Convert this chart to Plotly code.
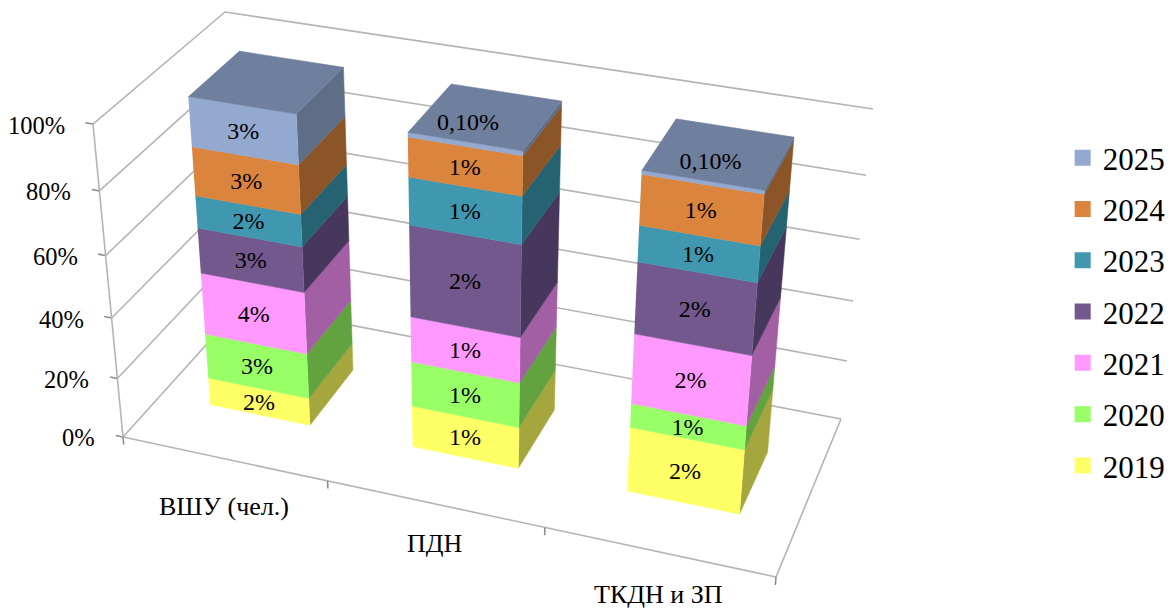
import numpy as np
import plotly.graph_objects as go

categories = ["ВШУ (чел.)", "ПДН", "ТКДН и ЗП"]
years = ["2019", "2020", "2021", "2022", "2023", "2024", "2025"]
v2019 = [1.83, 0.98, 1.92]
v2020 = [2.97, 1.05, 0.70]
v2021 = [4.00, 1.04, 2.00]
v2022 = [2.88, 2.05, 1.99]
v2023 = [2.01, 1.03, 0.98]
v2024 = [3.00, 0.84, 1.34]
v2025 = [3.00, 0.10, 0.10]
series = [v2019, v2020, v2021, v2022, v2023, v2024, v2025]
front_colors = ["#FFFF66", "#99FF66", "#FF99FF", "#72588C", "#4098B0", "#DB843D", "#93A9CF"]
side_colors = ["#A6A63F", "#62A33F", "#A35FA3", "#47375C", "#266372", "#8C5527", "#5E6E86"]
top_color = "#6F7F9E"
z_ticks = [0, 20, 40, 60, 80, 100]

# Chart box -> page pixels: a perspective camera solved from the box corners.
box = [(0, 0, 0), (1, 0, 0), (1, 1, 0), (0, 0, 1), (0, 1, 1), (1, 1, 1)]
page = [(123, 437), (776, 577), (841, 419), (93, 124), (225, 12), (873, 109)]
rows = []
for (X, Y, Z), (u, v) in zip(box, page):
    rows.append([X, Y, Z, 1, 0, 0, 0, 0, -u * X, -u * Y, -u * Z, -u])
    rows.append([0, 0, 0, 0, X, Y, Z, 1, -v * X, -v * Y, -v * Z, -v])
CAM = np.linalg.svd(np.array(rows, float))[2][-1].reshape(3, 4)


def pr(x, y, z):
    h = CAM @ np.array([x, y, z, 1.0])
    return h[0] / h[2], h[1] / h[2]


def path(points):
    xy = [pr(*p) for p in points]
    return [a for a, _ in xy], [b for _, b in xy]


fig = go.Figure()
GRID = "#B4B4B4"
TICK = "#8C8C8C"


def line(points, color=GRID, width=1.6):
    x, y = path(points)
    fig.add_trace(go.Scatter(x=x, y=y, mode="lines", line=dict(color=color, width=width),
                             hoverinfo="skip", showlegend=False))


def poly(points, color):
    x, y = path(points)
    fig.add_trace(go.Scatter(x=x, y=y, mode="lines", fill="toself", fillcolor=color,
                             line=dict(color=color, width=0.5), hoverinfo="skip", showlegend=False))


# walls and floor
for t in z_ticks:
    z = t / 100
    line([(0, 0, z), (0, 1, z), (1, 1, z)])
    line([(-0.012, 0, z), (0, 0, z)], TICK)
line([(0, 0, 0), (0, 0, 1)])
line([(0, 0, 0), (1, 0, 0), (1, 1, 0)])
for i in range(4):
    line([(i / 3, 0, 0), (i / 3, 0, -0.026)], TICK)

# stacked columns
n = len(categories)
depth0, depth1 = 0.3, 0.7
thin_label_dx = [0.0, -0.017, -0.005]
lab_x, lab_y, lab_t = [], [], []
for c in range(n):
    x0, x1 = (c + 0.25) / n, (c + 0.75) / n
    total = sum(s[c] for s in series)
    base = 0.0
    for s, fc, sc in zip(series, front_colors, side_colors):
        z0, z1 = base / total, (base + s[c]) / total
        base += s[c]
        poly([(x1, depth0, z0), (x1, depth1, z0), (x1, depth1, z1), (x1, depth0, z1)], sc)
        poly([(x0, depth0, z0), (x1, depth0, z0), (x1, depth0, z1), (x0, depth0, z1)], fc)
        if s[c] < 0.5:
            px, py = pr((x0 + x1) / 2 + thin_label_dx[c], 0.44, 1)
            lab_t.append(f"{s[c]:.2f}%".replace(".", ","))
        else:
            px, py = pr((x0 + x1) / 2, depth0, (z0 + z1) / 2)
            lab_t.append(f"{s[c]:.0f}%")
        lab_x.append(px)
        lab_y.append(py + 2)
    poly([(x0, depth0, 1), (x1, depth0, 1), (x1, depth1, 1), (x0, depth1, 1)], top_color)

FONT = "Liberation Serif"
fig.add_trace(go.Scatter(x=lab_x, y=lab_y, text=lab_t, mode="text", textposition="middle center",
                         textfont=dict(family=FONT, size=24, color="black"),
                         hoverinfo="skip", showlegend=False))

# legend entries, newest year first
for name, color in reversed(list(zip(years, front_colors))):
    fig.add_trace(go.Scatter(x=[None], y=[None], mode="markers", name=name, legendgroup=name,
                             marker=dict(symbol="square", size=16, color=color)))

for t in z_ticks:
    px, py = pr(0, 0, t / 100)
    fig.add_annotation(x=px, y=py, text=f"{t}%", showarrow=False, xanchor="right", yanchor="middle",
                       xshift=-26, yshift=-1, font=dict(family=FONT, size=24.5, color="black"))
cat_label_drop = [48, 40, 43]
for c, name in enumerate(categories):
    px, py = pr((c + 0.5) / n, 0, 0)
    fig.add_annotation(x=px, y=py, text=name, showarrow=False, xanchor="center", yanchor="middle",
                       yshift=-cat_label_drop[c], font=dict(family=FONT, size=26, color="black"))

fig.update_layout(
    width=1171, height=610, margin=dict(l=0, r=0, t=0, b=0, pad=0),
    paper_bgcolor="white", plot_bgcolor="white",
    xaxis=dict(range=[0, 1171], visible=False, fixedrange=True),
    yaxis=dict(range=[610, 0], visible=False, fixedrange=True),
    legend=dict(x=0.9075, xanchor="left", y=0.4885, yanchor="middle", tracegroupgap=8,
                font=dict(family=FONT, size=31, color="black"), itemclick=False, itemdoubleclick=False,
                bgcolor="rgba(0,0,0,0)"),
)
fig.write_html("out.html", post_script="document.body.style.margin='0';", config={"displayModeBar": False})
